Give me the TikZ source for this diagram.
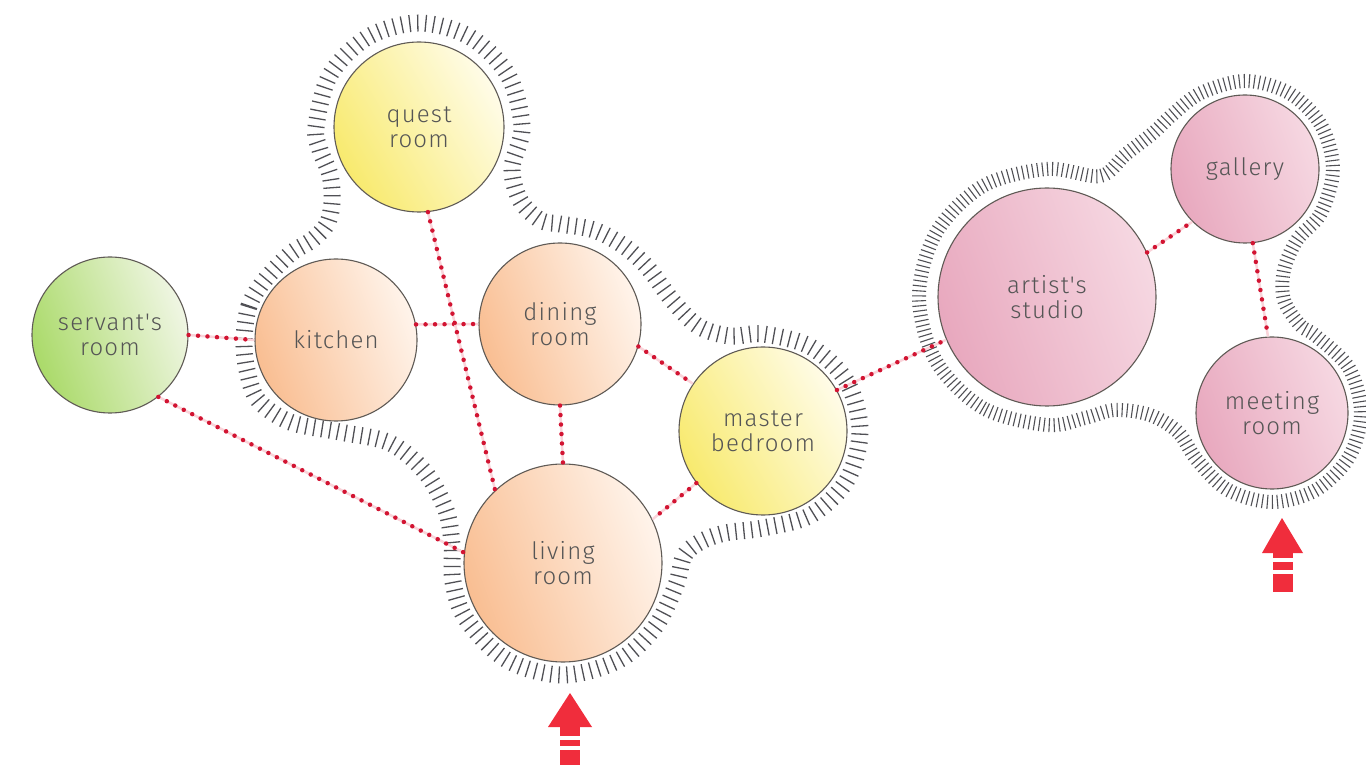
\documentclass[tikz,border=0pt]{standalone}
\usepackage{fontspec}
\newfontfamily\hand{Fira Sans Light}[LetterSpace=5]
\usetikzlibrary{decorations.pathreplacing}
\definecolor{bordercol}{RGB}{95,90,85}
\definecolor{textcol}{RGB}{85,85,85}
\definecolor{hatchcol}{RGB}{80,80,85}
\definecolor{dotred}{RGB}{210,20,50}
\definecolor{halo}{RGB}{250,212,218}
\definecolor{arrowred}{RGB}{240,45,60}
\definecolor{grnA}{RGB}{170,218,105}
\definecolor{grnB}{RGB}{240,246,228}
\definecolor{orA}{RGB}{249,190,146}
\definecolor{orB}{RGB}{255,244,235}
\definecolor{yeA}{RGB}{248,234,110}
\definecolor{yeB}{RGB}{255,252,232}
\definecolor{piA}{RGB}{232,168,190}
\definecolor{piB}{RGB}{246,216,226}
\tikzset{
  room/.style={circle, draw=bordercol, line width=1.1pt, inner sep=0pt, align=center,
    text=textcol, font=\hand\fontsize{24}{25}\selectfont},
  greenroom/.style={room, top color=grnB, bottom color=grnA, shading angle=-70},
  orangeroom/.style={room, top color=orB, bottom color=orA, shading angle=-70},
  yellowroom/.style={room, top color=yeB, bottom color=yeA, shading angle=-60},
  pinkroom/.style={room, top color=piB, bottom color=piA, shading angle=-70},
  conn/.style={draw=dotred, line width=4.5pt, line cap=round, dash pattern=on 0pt off 9.5pt,
    preaction={draw=halo, line width=2.5pt, solid}},
  hatchleft/.style={draw=hatchcol, line width=1.3pt, decorate,
    decoration={ticks, segment length=8pt, amplitude=8.5pt}},
  hatchright/.style={draw=hatchcol, line width=1.1pt, decorate,
    decoration={ticks, segment length=5pt, amplitude=7pt}},
  arrowfill/.style={fill=arrowred}
}
\begin{document}
\begin{tikzpicture}[x=1pt,y=-1pt]
\useasboundingbox (0,0) rectangle (1366,775);
\fill[white] (0,0) rectangle (1366,775);

% rooms
\node[greenroom,  minimum size=156pt] (servant) at (110,335) {servant's\\room};
\node[orangeroom, minimum size=162pt] (kitchen) at (336,340) {kitchen};
\node[yellowroom, minimum size=170pt] (quest)   at (419,127) {quest\\room};
\node[orangeroom, minimum size=162pt] (dining)  at (560,324) {dining\\room};
\node[yellowroom, minimum size=168pt] (master)  at (763,431) {master\\bedroom};
\node[orangeroom, minimum size=198pt] (living)  at (563,563) {living\\room};
\node[pinkroom,   minimum size=218pt] (artist)  at (1047,297) {artist's\\studio};
\node[pinkroom,   minimum size=148pt] (gallery) at (1245,169) {gallery};
\node[pinkroom,   minimum size=152pt] (meeting) at (1272,413) {meeting\\room};

% hatched outlines
\draw[hatchleft] plot[smooth cycle, tension=0.55] coordinates {
 (244,340) (249,306) (264,281) (290,254) (312,240) (327,224) (332,202) (330,175)
 (320,150) (316,127) (330,75) (368,37) (419,23) (470,37) (508,75) (522,127)
 (512,168) (520,200) (540,220) (560,224) (594,230) (624,246) (648,268) (672,300)
 (698,326) (730,336) (763,334) (811,347) (847,382) (860,431) (847,480) (811,515)
 (763,528) (725,533) (700,542) (684,556) (676,585) (655,627) (619,660) (563,675)
 (507,660) (466,619) (453,582) (452,545) (446,510) (425,472) (390,443) (340,432)
 (290,422) (258,400) (247,370)};
\draw[hatchright] plot[smooth cycle, tension=0.55] coordinates {
 (1047,425) (983,408) (936,361) (919,297) (936,233) (983,186) (1047,169) (1100,176)
 (1125,155) (1153,133) (1172,115) (1201,93) (1245,81) (1289,93) (1321,125) (1333,169)
 (1321,213) (1297,240) (1284,270) (1284,300) (1300,325) (1316,336) (1349,368) (1361,413)
 (1349,457) (1316,490) (1272,502) (1228,490) (1197,460) (1178,432) (1150,415) (1115,410)
 (1085,418)};

% connectors
\draw[conn] (servant.0) -- (kitchen.180);
\draw[conn] (servant.-52) -- (living.174);
\draw[conn] (kitchen.11) -- (dining.180);
\draw[conn] (quest.-84) -- (living.133);
\draw[conn] (dining.-90) -- (living.90);
\draw[conn] (dining.-16) -- (master.146);
\draw[conn] (master.218) -- (living.26);
\draw[conn] (master.29) -- (artist.-157);
\draw[conn] (artist.24) -- (gallery.225);
\draw[conn] (gallery.-84) -- (meeting.93);

% entrance arrows
\fill[arrowfill] (548,727) -- (570,693) -- (592,727) -- cycle;
\fill[arrowfill] (560,726) rectangle (580,736);
\fill[arrowfill] (560,740) rectangle (580,746);
\fill[arrowfill] (560,750) rectangle (580,765);
\fill[arrowfill] (1262,553) -- (1282,518) -- (1303,553) -- cycle;
\fill[arrowfill] (1273,552) rectangle (1293,558);
\fill[arrowfill] (1273,562) rectangle (1293,570);
\fill[arrowfill] (1273,574) rectangle (1293,592);
\end{tikzpicture}
\end{document}
